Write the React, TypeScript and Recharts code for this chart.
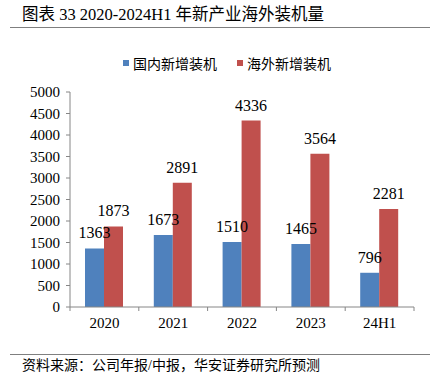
import React from "react";
import { BarChart, Bar, XAxis, YAxis, LabelList, Legend } from "recharts";

const categories = ["2020", "2021", "2022", "2023", "24H1"];
const domestic = [1363, 1673, 1510, 1465, 796];
const overseas = [1873, 2891, 4336, 3564, 2281];
const yTicks = [0, 500, 1000, 1500, 2000, 2500, 3000, 3500, 4000, 4500, 5000];
const seriesNames = ["国内新增装机", "海外新增装机"];
const title = "图表 33 2020-2024H1 年新产业海外装机量";
const source = "资料来源：公司年报/中报，华安证券研究所预测";

const data = categories.map((c, i) => ({
  name: c,
  domestic: domestic[i],
  overseas: overseas[i],
}));

const W = 430;
const H = 386;
const M = { top: 92, right: 16, left: 10, bottom: 49 };
const YW = 60;
const PLOT_W = W - M.left - M.right - YW;
const HALF_BAND = PLOT_W / categories.length / 2;

const BLUE = "#4F81BD";
const RED = "#C0504D";
const AXIS = "#868686";
const SERIF = '"Liberation Serif", "Times New Roman", serif';
const CJK = '"Liberation Serif", "Noto Sans CJK SC", serif';

const XTick = (props: any) => {
  const { x, y, payload, index } = props;
  return (
    <g>
      {index === 0 && (
        <line x1={x - HALF_BAND} y1={y} x2={x - HALF_BAND} y2={y + 4} stroke={AXIS} />
      )}
      <line x1={x + HALF_BAND} y1={y} x2={x + HALF_BAND} y2={y + 4} stroke={AXIS} />
      <text x={x} y={y} dy={21} textAnchor="middle" fill="#000" fontSize={15} fontFamily={SERIF}>
        {payload.value}
      </text>
    </g>
  );
};

const LegendContent = () => (
  <div style={{ display: "flex", alignItems: "center", fontFamily: CJK, fontSize: 14, color: "#000" }}>
    {seriesNames.map((n, i) => (
      <div key={n} style={{ display: "flex", alignItems: "center", marginRight: i === 0 ? 20 : 0 }}>
        <span style={{ width: 6, height: 6, background: i === 0 ? BLUE : RED, display: "inline-block", marginRight: 4 }} />
        <span>{n}</span>
      </div>
    ))}
  </div>
);

export default function App() {
  return (
    <div style={{ position: "absolute", left: 0, top: 0, width: W, height: H, background: "#fff", overflow: "hidden" }}>
      <div style={{ position: "absolute", left: 22, top: 4, fontFamily: CJK, fontSize: 16.5, color: "#000", whiteSpace: "nowrap", lineHeight: "22px" }}>
        {title}
      </div>
      <div style={{ position: "absolute", left: 10, top: 27, width: 420, height: 0, borderTop: "1.5px solid #7f7f7f" }} />
      <BarChart width={W} height={H} data={data} margin={M} barCategoryGap={15} barGap={0}>
        <Legend
          verticalAlign="middle"
          align="center"
          content={<LegendContent />}
          wrapperStyle={{ position: "absolute", left: 123, top: 53, width: "auto", height: 20 }}
        />
        <XAxis
          dataKey="name"
          axisLine={{ stroke: AXIS }}
          tickLine={false}
          tickSize={0}
          tickMargin={0}
          height={30}
          interval={0}
          tick={<XTick />}
        />
        <YAxis
          width={YW}
          domain={[0, 5000]}
          ticks={yTicks}
          interval={0}
          axisLine={{ stroke: AXIS }}
          tickLine={{ stroke: AXIS }}
          tickSize={4}
          tickMargin={6}
          tick={{ fill: "#000", fontSize: 15, fontFamily: SERIF }}
        />
        <Bar dataKey="domestic" name={seriesNames[0]} fill={BLUE} isAnimationActive={false}>
          <LabelList dataKey="domestic" position="top" offset={10} fill="#000" fontSize={16} fontFamily={SERIF} />
        </Bar>
        <Bar dataKey="overseas" name={seriesNames[1]} fill={RED} isAnimationActive={false}>
          <LabelList dataKey="overseas" position="top" offset={10} fill="#000" fontSize={16} fontFamily={SERIF} />
        </Bar>
      </BarChart>
      <div style={{ position: "absolute", left: 10, top: 354, width: 420, height: 0, borderTop: "1.5px solid #7f7f7f" }} />
      <div style={{ position: "absolute", left: 22, top: 357, fontFamily: CJK, fontSize: 14, color: "#000", whiteSpace: "nowrap", lineHeight: "18px" }}>
        {source}
      </div>
    </div>
  );
}
